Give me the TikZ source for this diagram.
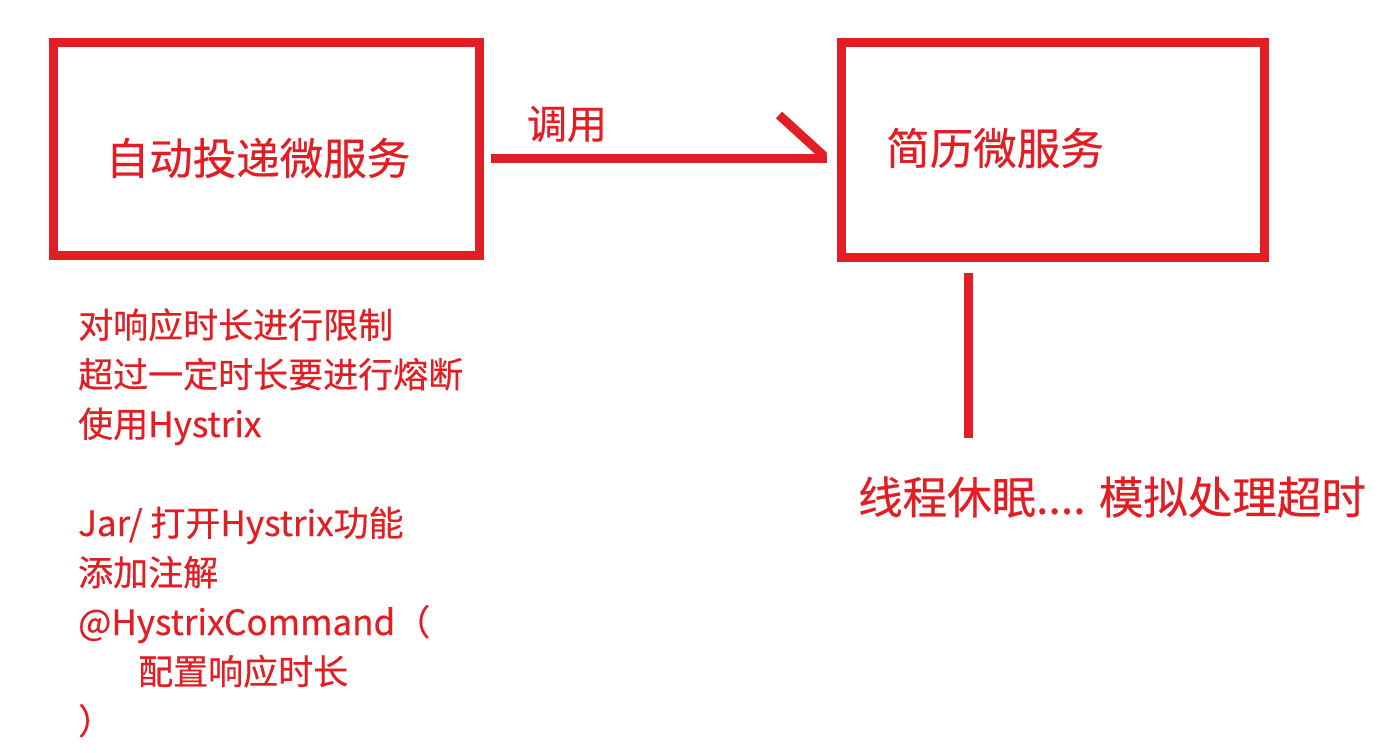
\documentclass[tikz,border=0pt]{standalone}
\usepackage{fontspec}
\setmainfont{Noto Sans CJK SC}[FakeBold=0.4]
\definecolor{myred}{RGB}{226,30,36}
\begin{document}
\begin{tikzpicture}[x=1pt,y=-1pt,
  boxstyle/.style={draw=myred,line width=9pt,inner sep=0pt,outer sep=0pt},
  bigtxt/.style={text=myred,font=\fontsize{43.5}{50}\selectfont,inner sep=0pt},
  smalltxt/.style={text=myred,font=\fontsize{35}{40}\selectfont,inner sep=0pt,anchor=base west},
  conn/.style={draw=myred,line width=9pt,line cap=butt}]
\fill[white] (0,0) rectangle (1378,752);
\useasboundingbox (0,0) rectangle (1378,752);
% boxes
\node[boxstyle,minimum width=426pt,minimum height=213pt] (A) at (266.5,149) {};
\node[boxstyle,minimum width=423.5pt,minimum height=214pt] (B) at (1052.75,150) {};
\node[bigtxt] (At) at (258,158) {自动投递微服务};
\node[bigtxt] (Bt) at (995,148) {简历微服务};
% call arrow
\coordinate (s) at (491,158);
\coordinate (t) at (827,158);
\coordinate (barb) at (779,115);
\draw[conn] (s) -- (t);
\draw[conn] ([xshift=-3pt,yshift=2pt]t) -- (barb);
\node[text=myred,font=\fontsize{40}{46}\selectfont,inner sep=0pt] (call) at (567,124) {调用};
% vertical line below B
\coordinate (v1) at (968,273);
\coordinate (v2) at (968,438);
\draw[conn] (v1) -- (v2);
\node[bigtxt,font=\fontsize{44.5}{50}\selectfont] (sleep) at (1112,497) {线程休眠.... 模拟处理超时};
% left notes
\node[smalltxt] (l1) at (78,338) {对响应时长进行限制};
\node[smalltxt] (l2) at (78,387.5) {超过一定时长要进行熔断};
\node[smalltxt] (l3) at (78,437) {使用Hystrix};
\node[smalltxt] (l5) at (78,536) {Jar/ 打开Hystrix功能};
\node[smalltxt] (l6) at (78,585.5) {添加注解};
\node[smalltxt] (l7) at (78,635) {@HystrixCommand（};
\node[smalltxt] (l8) at (138,684.5) {配置响应时长};
\node[smalltxt] (l9) at (78,734) {）};
\end{tikzpicture}
\end{document}
